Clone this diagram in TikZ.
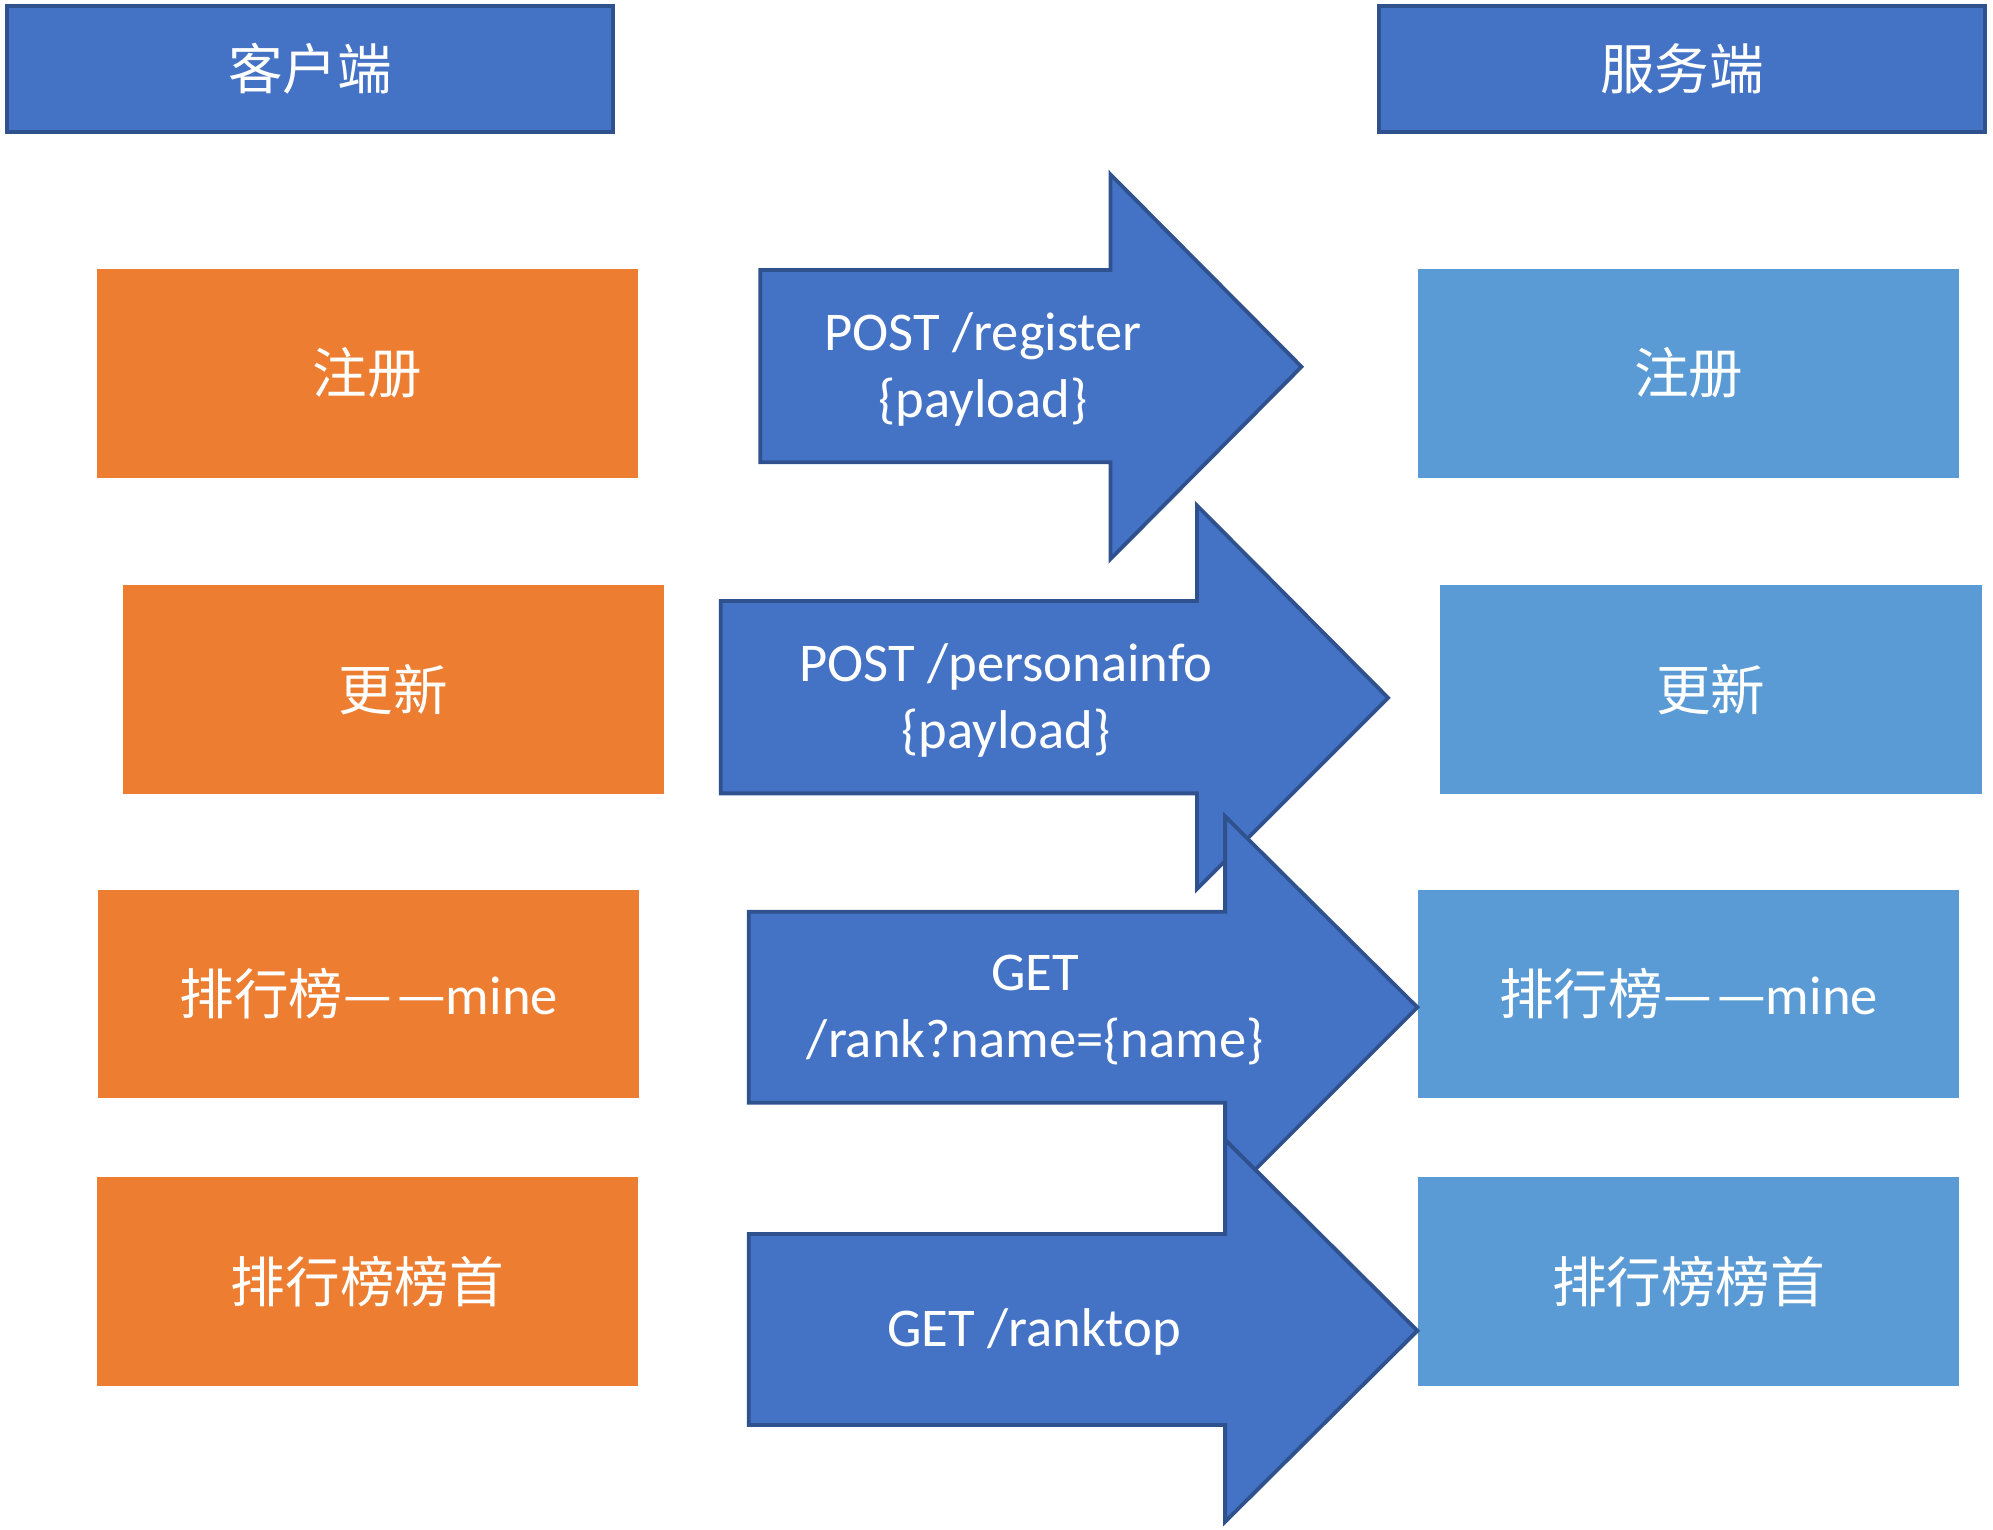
\documentclass[tikz,border=0pt]{standalone}
\usepackage{fontspec}
\setmainfont{Carlito}
\newfontfamily\cjk{Noto Sans CJK SC}
\definecolor{headblue}{HTML}{4472C4}
\definecolor{edgeblue}{HTML}{2F528F}
\definecolor{clientorange}{HTML}{ED7D31}
\definecolor{serverblue}{HTML}{5B9BD5}

\begin{document}
\begin{tikzpicture}[x=0.1mm,y=-0.1mm,
    txt/.style={text=white,font=\fontsize{12.2pt}{15.1pt}\selectfont,align=center},
    headbox/.style={txt,draw=edgeblue,line width=0.3mm,fill=headblue,minimum width=47.6mm,minimum height=9.9mm,inner sep=0pt},
    clientbox/.style={txt,fill=clientorange,minimum width=42.5mm,minimum height=16.4mm,inner sep=0pt},
    serverbox/.style={txt,fill=serverblue,minimum width=42.5mm,minimum height=16.4mm,inner sep=0pt},
    reqarrow/.style={draw=edgeblue,line width=0.3mm,fill=headblue,line join=miter},
    reqlabel/.style={txt,inner sep=0pt}]
    \useasboundingbox (0,0) rectangle (1565,1201);

    \node[headbox] (client) at (243.5,54) {\cjk 客户端};
    \node[headbox] (server) at (1321,54) {\cjk 服务端};

    \node[clientbox] (c-register) at (288.5,293) {\cjk 注册};
    \node[clientbox] (c-update) at (309,541.5) {\cjk 更新};
    \node[clientbox] (c-mine) at (289.5,780.5) {{\cjk 排行榜—\hspace{0.4mm}—}mine};
    \node[clientbox] (c-top) at (288.5,1006.5) {\cjk 排行榜榜首};

    \node[serverbox] (s-register) at (1326,293) {\cjk 注册};
    \node[serverbox] (s-update) at (1343.5,541.5) {\cjk 更新};
    \node[serverbox] (s-mine) at (1326,780.5) {{\cjk 排行榜—\hspace{0.4mm}—}mine};
    \node[serverbox] (s-top) at (1326,1006.5) {\cjk 排行榜榜首};

    % request arrows, drawn top to bottom so each one covers the one above
    \draw[reqarrow] (597,212) -- (872,212) -- (872,137) -- (1022,288)
        -- (872,439) -- (872,363) -- (597,363) -- cycle;
    \node[reqlabel] (post-register) at (772,290) {POST /register\\\{payload\}};

    \draw[reqarrow] (566,472) -- (940,472) -- (940,397) -- (1090,548)
        -- (940,698) -- (940,623) -- (566,623) -- cycle;
    \node[reqlabel] (post-info) at (790,550) {POST /personainfo\\\{payload\}};

    \draw[reqarrow] (588,716) -- (962,716) -- (962,641) -- (1113,791)
        -- (962,942) -- (962,866) -- (588,866) -- cycle;
    \node[reqlabel] (get-rank) at (813,793) {GET\\/rank?name=\{name\}};

    \draw[reqarrow] (588,969) -- (962,969) -- (962,895) -- (1113,1045)
        -- (962,1195) -- (962,1119) -- (588,1119) -- cycle;
    \node[reqlabel] (get-top) at (812,1046) {GET /ranktop};
\end{tikzpicture}
\end{document}
